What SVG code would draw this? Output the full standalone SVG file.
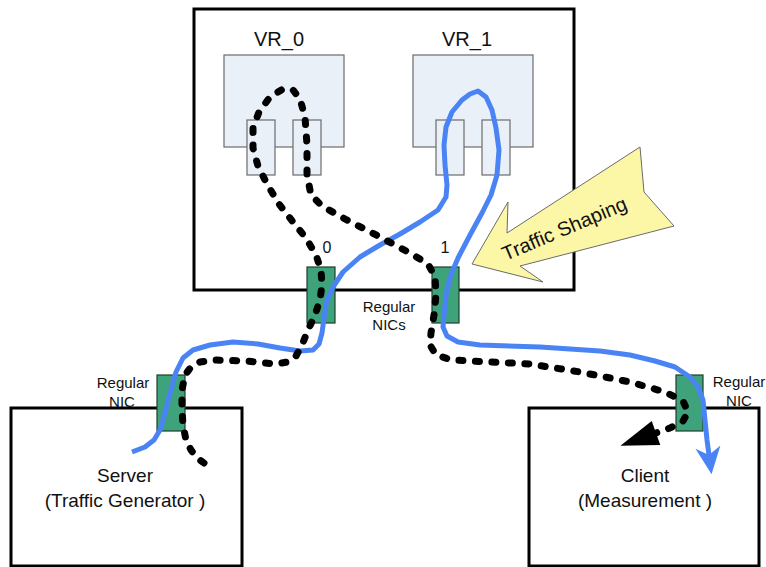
<svg xmlns="http://www.w3.org/2000/svg" width="766" height="567" viewBox="0 0 766 567">
  <style>
    .box { fill: #ffffff; stroke: #000000; stroke-width: 3; }
    .vr { fill: #eaf0f8; stroke: #6b6b6b; stroke-width: 1.2; }
    .port { fill: #eaf0f8; stroke: #6b6b6b; stroke-width: 1.2; }
    .nic { fill: #3ea37b; stroke: #1f3d2e; stroke-width: 1.2; }
    .lbl { font-family: "Liberation Sans", Arial, sans-serif; fill: #111111; text-anchor: middle; }
    .big { font-size: 19px; }
    .vrl { font-size: 20px; }
    .small { font-size: 15px; }
    .num { font-size: 16px; }
    .blue { fill: none; stroke: #4a84f4; stroke-width: 5; stroke-linejoin: round; stroke-linecap: butt; }
    .dots { fill: none; stroke: #000000; stroke-width: 7; stroke-linejoin: round; stroke-linecap: round; stroke-dasharray: 4 12.5; }
  </style>
  <defs>
    <marker id="blueHead" markerUnits="userSpaceOnUse" markerWidth="40" markerHeight="40" refX="5" refY="0" viewBox="-5 -15 35 30" orient="auto" overflow="visible">
      <path d="M22,0 L-2,-11 L5,0 L-2,11 Z" fill="#4a84f4"/>
    </marker>
    <marker id="blackHead" markerUnits="userSpaceOnUse" markerWidth="50" markerHeight="40" refX="0" refY="0" viewBox="-5 -15 45 30" orient="auto" overflow="visible">
      <path d="M0,-11.5 L34,0 L0,11.5 Z" fill="#000000"/>
    </marker>
  </defs>

  <!-- Router host with two virtual routers -->
  <g id="router">
    <rect class="box" x="194" y="9" width="380" height="281"/>
  </g>
  <g id="vr0">
    <rect class="vr" x="224" y="55" width="120" height="92"/>
    <rect class="port" x="247" y="120" width="28" height="55"/>
    <rect class="port" x="293" y="120" width="28" height="55"/>
    <text class="lbl vrl" x="279" y="46">VR_0</text>
  </g>
  <g id="vr1">
    <rect class="vr" x="413" y="55" width="120" height="92"/>
    <rect class="port" x="436" y="120" width="28" height="55"/>
    <rect class="port" x="482" y="120" width="28" height="55"/>
    <text class="lbl vrl" x="467" y="46">VR_1</text>
  </g>

  <!-- End hosts -->
  <g id="server">
    <rect class="box" x="11" y="408" width="231" height="158"/>
    <text class="lbl big" x="125" y="482">Server</text>
    <text class="lbl big" x="125" y="507">(Traffic Generator )</text>
  </g>
  <g id="client">
    <rect class="box" x="529" y="408" width="230" height="158"/>
    <text class="lbl big" x="645" y="482">Client</text>
    <text class="lbl big" x="645" y="507">(Measurement )</text>
  </g>

  <!-- Network interface cards -->
  <g id="nic0">
    <rect class="nic" x="307" y="267" width="28" height="56"/>
    <text class="lbl num" x="327" y="253">0</text>
  </g>
  <g id="nic1">
    <rect class="nic" x="432" y="267" width="27" height="56"/>
    <text class="lbl num" x="445" y="253">1</text>
  </g>
  <g id="router-nic-label">
    <text class="lbl small" x="389" y="312">Regular</text>
    <text class="lbl small" x="389" y="330">NICs</text>
  </g>
  <g id="server-nic">
    <rect class="nic" x="157" y="375" width="28" height="56"/>
    <text class="lbl small" x="123" y="388">Regular</text>
    <text class="lbl small" x="122" y="407">NIC</text>
  </g>
  <g id="client-nic">
    <rect class="nic" x="676" y="375" width="27" height="56"/>
    <text class="lbl small" x="739" y="387">Regular</text>
    <text class="lbl small" x="739" y="406">NIC</text>
  </g>

  <!-- Traffic shaping callout -->
  <g id="traffic-shaping">
    <polygon points="472,264 508,202 507,233 640,147 644,192 674,226 520,266 543,282" fill="#fbf7a6" stroke="#6b6b6b" stroke-width="1"/>
    <text class="lbl" font-size="20" transform="translate(567,235) rotate(-23)">Traffic Shaping</text>
  </g>

  <!-- Traffic paths -->
  <g id="connectors">
    <path class="blue" marker-end="url(#blueHead)" d="M132,452 L145,447 L154,440 L160,430 L165,413 L170,393 L176,372 L183,358 L193,350 L210,345 L233,342 L258,344 L280,348 L300,351 L313,350 L319,344 L322,333 L324,318 L327,300 L333,287 L343,272 L360,257 L380,245 L400,234 L420,222 L438,210 L446,197 L447,185 L445,165 L444,145 L446,127 L452,112 L462,100 L470,94 L478,91 L486,97 L492,110 L496,128 L499,150 L497,175 L491,195 L482,213 L470,235 L458,258 L450,277 L446,295 L444,315 L443,327 L447,336 L458,342 L480,345 L540,347 L600,351 L630,355 L655,361 L675,367 L690,377 L698,387 L703,400 L705,420 L707,440 L709,455"/>
    <path class="dots" marker-end="url(#blackHead)" d="M204,463 L197,458 L191,450 L186,440 L183,425 L182,410 L182,390 L185,375 L191,367 L200,362 L215,360 L247,361 L275,364 L288,362 L296,356 L302,345 L308,330 L315,315 L320,300 L322,285 L321,270 L316,255 L306,238 L293,222 L279,204 L267,184 L258,166 L253,148 L253,128 L259,112 L270,97 L283,89 L293,90 L300,99 L305,117 L307,145 L307,175 L311,195 L322,206 L345,219 L380,237 L410,253 L428,264 L435,277 L436,295 L434,315 L431,333 L430,345 L436,355 L452,360 L490,362 L530,364 L580,372 L630,382 L665,392 L683,401 L688,412 L683,421 L670,428 L656,433"/>
  </g>
</svg>
